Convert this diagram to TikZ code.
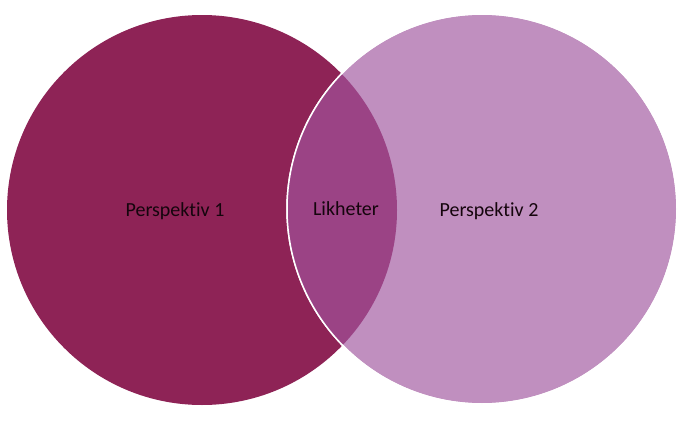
\documentclass[tikz,border=0pt]{standalone}
\usepackage{fontspec}
\setmainfont{Carlito}[Ligatures=NoCommon]
\usepackage{tikz}
\usetikzlibrary{shapes,positioning}
\definecolor{plumdark}{RGB}{142,35,86}
\definecolor{plumlight}{RGB}{192,143,191}
\definecolor{plummid}{RGB}{155,67,133}
\tikzstyle{perspektiv} = [circle, minimum size=390pt, inner sep=0pt]
\tikzstyle{tekst} = [font=\fontsize{20}{24}\selectfont, text=black!85!plumdark]

\begin{document}
\begin{tikzpicture}[x=1pt, y=-1pt]
    \useasboundingbox (0,0) rectangle (688,439);
    % Place circles
    \node [perspektiv, fill=plumdark] (p1) at (202,210) {};
    \node [perspektiv, fill=plumlight, draw=white, line width=1.5pt] (p2) at (482,209) {};

    % Overlap
    \begin{scope}
        \clip (p1.center) circle (195pt);
        \fill [plummid] (p2.center) circle (195pt);
    \end{scope}
    \draw [white, line width=1.5pt] (p2.center) circle (195pt);

    % Labels
    \node [tekst] (t1) at (175,211) {Perspektiv 1};
    \node [tekst] (t3) at (346,209) {Likheter};
    \node [tekst] (t2) at (489,211) {Perspektiv 2};
\end{tikzpicture}
\end{document}
